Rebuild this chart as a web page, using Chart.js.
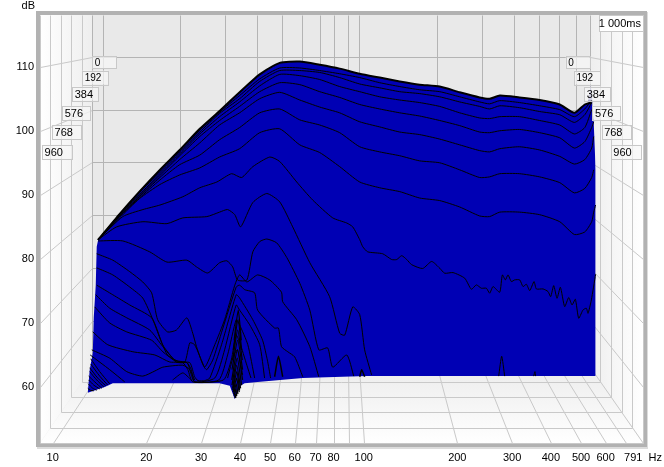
<!DOCTYPE html>
<html><head><meta charset="utf-8">
<style>html,body{margin:0;padding:0;background:#fff}canvas{display:block}</style>
<script src="https://cdn.jsdelivr.net/npm/chart.js@4"></script></head>
<body><canvas id="c" width="664" height="467"></canvas>
<script>
const xTicks=[10,20,30,40,50,60,70,80,100,200,300,400,500,600,791];
const yTicks=[60,70,80,90,100,110];
const timeLabels=[0,192,384,576,768,960];
const timeLabelLevels=[111.6,109.4,106.9,103.9,100.9,97.8];
const gridF=[14,16.4,19,22.1,25.6,29.7,34.4,39.9,46.3,53.7,62.3,72.2,83.7,97.1,112.6,130.6,151.4,175.6,203.6,236,254,274,317,368,427,476,514,541,549,557];
const edgeF=[12.96,13.15,13.45,13.55,13.75,13.85];
const edgeD=[59.1,62.7,65.3,70.9,75.9,81.9];
const floorF=[12.96,14.7,15.6,34.4,37.1,38.5,40.2,41.4,45.6,63.7,102.2,557];
const floorD=[59.1,60,60.6,60.6,60.2,58.1,60.2,60.6,60.8,61.4,61.7,61.7];
const s0=[83.0,87.0,90.5,93.9,97.0,100.3,103.1,106.0,108.8,110.6,110.8,110.3,109.7,108.9,108.3,107.7,107.2,106.9,106.0,105.2,105.0,105.5,105.2,104.8,104.1,102.8,104.1,104.4,101.4,93.9];
const s1=[83.0,87.0,90.5,93.8,96.9,100.1,102.9,105.5,108.1,109.8,109.8,109.4,108.9,108.3,107.5,106.9,106.4,106.1,105.3,104.5,104.2,104.7,104.4,103.9,103.3,102.2,103.4,104.8];
const s2=[83.0,86.9,90.3,93.6,96.7,99.8,102.7,105.0,107.7,109.4,109.4,109.1,108.3,107.3,106.7,106.1,105.8,105.3,104.5,103.8,103.4,103.9,103.6,103.0,102.5,101.3,102.5,104.4];
const s3=[83.0,86.9,90.0,93.3,96.4,99.5,102.2,104.5,107.0,108.8,108.6,108.0,106.9,106.1,105.3,104.8,104.4,103.8,102.8,102.0,101.9,102.2,102.2,101.6,100.9,99.5,100.5,103.3];
const s4=[83.0,86.7,89.8,93.0,96.1,99.1,101.6,103.8,106.1,107.5,107.2,106.1,105.2,104.1,103.4,102.8,102.3,101.6,100.8,99.8,99.7,100.0,100.2,99.7,98.9,97.3,98.3,100.5,101.4];
const s5=[83.0,86.7,89.7,92.7,95.5,98.1,100.9,102.8,105.0,106.0,104.8,103.7,102.8,101.4,100.6,99.8,99.4,98.7,97.8,96.9,96.7,97.2,97.5,97.0,96.0,94.8,95.5,97.3,99.1];
const s6=[83.0,86.6,89.5,92.3,94.7,96.2,98.6,100.5,102.8,103.4,101.7,100.9,99.7,97.5,96.7,96.1,95.3,95.0,93.9,92.7,92.8,93.3,93.3,92.8,91.9,90.3,91.0,92.7,93.9];
const s7=[83.0,86.4,89.4,91.6,93.1,94.2,95.9,97.2,99.7,100.3,97.8,96.6,94.4,92.0,91.1,90.5,89.5,89.1,88.1,86.7,86.6,87.3,87.3,86.9,85.8,83.8,84.2,85.8,87.3,88.4];
const s8F=[14,16.8,19.5,22.1,26.2,29.7,33.7,37.6,40.5,44,49.9,53.7,60.9,68.5,79.5,88.2,92.2,97.1,99.3,103,115.1,123,127.7,132.5,137.5,142.6,154.8,165.4,175.6,182.2,193.8,211.3,221.9,230.3,239,248,254.2,260.6,273.7,279.2,285.4,291.1,298.5,305.9,317.4,325.4,333.6,341.9,353,359.1,377.3,391.5,399.3,408.3,418.5,429,442.9,456.3,467.7,479.3,491.3,507.3,520,526.5,539.6,557];
const s8D=[83.0,86.6,87.7,88.4,89.7,91.1,92.0,93.3,92.7,94.4,95.9,95.2,92.0,89.2,86.4,85.6,85.0,83.0,81.9,81.1,80.8,79.9,79.9,80.5,79.9,79.1,78.5,79.6,78.54,77.76,77.86,76.98,75.26,75.94,75.42,75.42,74.64,75.68,74.79,77.5,76.72,77.5,76.46,76.72,76.72,75.68,76.04,75.05,76.46,75.31,75.31,74.9,74.1,75.83,73.85,75.57,72.55,73.96,72.81,73.7,70.73,72.03,72.29,71.5,73.6,77.6];
const s9F=[14,16.06,19.5,23.3,26.2,31.3,34.4,36.5,38.5,40.2,44,48.8,53.7,59.1,67.1,77.7,83.7,86.9,92.2,97.1,100.7,106];
const s9D=[83,85,85.8,85.5,86.4,86.6,87.3,87.7,86.9,85,88.8,90.2,88.9,85,79.4,74.1,68.4,68.1,72.5,71.3,65.8,61.9];
const s10F=[14,16.8,20.5,23.3,27,29,31.5,34.4,36.3,37.9,39.3,42.1,44,46.3,48.8,52.5,56.6,62.3,67.1,71.7,76.6,79.5,88.2,92.9];
const s10D=[82.8,82.8,81.1,79.5,79.8,78.75,77.8,79.4,79.7,78.75,76.7,76.7,81.1,82.7,83.1,82.5,80.2,76.2,72.0,65.8,66.1,63.1,65.0,61.7];
const s11F=[13.85,15.6,17.69,19.47,20.8,21.75,23.4,25,27,28.2,29,30.8,33.2,35.7,38.5,39.9,42.1,45.6,49.9,54.4,54.9,60.9,67.1,71.7];
const s11D=[80.8,79.8,78.0,76.4,74.7,70.5,68.6,68.9,70.8,68.4,66.3,63.1,66.6,70.5,75.9,77.5,76.4,77.5,76.7,74.8,73.3,70.5,66.3,61.6];
const s12F=[13.85,15.6,17.69,19.47,21,22.4,22.9,25,26.6,27.6,28.6,30.8,31.3,32.7,35.1,38.9,39.9,41.4,44.6,45.6,51.7,53.2,54.4,57,60,63.7];
const s12D=[78.6,77.5,75.6,73.9,70.5,66.9,66.1,63.9,63.9,66.9,66.6,63,62.7,64.2,68.9,75.6,75.9,75.2,74.7,72,69.2,69.2,66.3,65.5,64.7,61.6];
const s13F=[13.85,15.6,17.69,20.8,22.4,23.4,25.6,27.6,28.6,29.3,30.8,32,34.9,38.9,39.9,44,47.3,49,50.2];
const s13D=[75.9,74.4,72.8,70.8,67,65,63.9,63.8,61.6,61,61,61.4,66.6,74.4,73.9,70.5,67.3,64.2,61.4];
const s14F=[13.75,15.25,17.3,20.5,22.6,24.7,27,27.9,28.6,33.2,35.7,38.9,39.9,43,46.3,48];
const s14D=[74.4,72.3,70.8,68.9,66.3,64.2,63.8,62.7,60.8,61.4,65.8,72.8,72,69.7,66.6,61.4];
const s15F=[13.65,15.25,17.3,20.8,22.6,25,26.2,27.2,28.2,34.2,36.5,38.9,39.9,42.4,44.6];
const s15D=[72.5,70,68.6,67.3,65.5,63.9,63.8,62.7,60.8,61.1,65,70.5,69.7,66.6,61.4];
const s16F=[13.45,15.03,18.1,21.3,23.8,27,27.9,28.6,35.4,37.5,38.9,39.9,42.1,43.4];
const s16D=[68.6,66.6,65.5,65,63.9,63.8,61.9,60.8,61.1,64.2,68.1,67,63.4,61.4];
const s17F=[13.35,15.25,17.3,19.47,21.3,22.6,26.2,27.6,28.6];
const s17D=[65.8,64.5,62.4,61.7,62.5,63.1,63.4,62.7,61.1];
const s18F=[13.2,15.25,17.04];
const s18D=[65,62.7,60.8];
const hump1F=[36.5,38.2,39.3,40.8];
const hump1D=[61.4,65,65.8,61.9];
const hump2F=[24.3,26.2,27.9];
const hump2D=[61.1,62.2,61.1];
const hump3F=[51.7,53.2,54.9];
const hump3D=[61.6,64.8,61.6];
const hump4F=[97.1,98.5,100.7];
const hump4D=[61.6,62.7,61.6];
const hump5F=[271.7,277.8,284];
const hump5D=[61.7,64.8,61.7];
const hump6F=[352,355.4,357];
const hump6D=[61.7,62.4,61.7];
const fan1F=[13.25,14.16,15.25],fan1D=[64.4,62.4,60.5];
const fan2F=[13.25,14.16,15.03],fan2D=[63.6,61.7,60.3];
const fan3F=[13.15,13.95,14.8],fan3D=[63,61.4,60.2];
const fan4F=[13.15,13.85,14.6],fan4D=[62.4,61.1,60];
const fan5F=[13.05,13.65,14.38],fan5D=[61.7,60.8,59.8];
const fan6F=[13.05,13.55,14.16],fan6D=[61.1,60.3,59.7];
const fan7F=[13,13.45,13.85],fan7D=[60.5,59.8,59.5];
const fan8F=[12.96,13.2,13.55],fan8D=[59.8,59.5,59.4];
const p1F=[38.3,39.5,40.4],p1D=[67.3,72,67.3];
const p2F=[38.04,39.45,40.5],p2D=[65.8,70.5,65.8];
const p3F=[37.9,39.35,40.7],p3D=[64.2,68.9,64.2];
const p4F=[37.7,39.35,40.8],p4D=[62.7,67.3,62.7];
const p5F=[37.63,39.25,40.8],p5D=[61.1,65.8,61.1];
const p6F=[37.7,39.2,40.5],p6D=[60.3,64.5,60.3];
const p7F=[37.9,39.05,40.2],p7D=[59.8,63.4,59.8];
const p8F=[37.9,39.1,39.9],p8D=[59.5,62.4,59.5];
const p9F=[38.04,39,39.8],p9D=[59.2,61.4,59.2];
const p10F=[38.19,38.9,39.4],p10D=[58.9,60.5,58.9];
const p11F=[38.3,38.8,39.05],p11D=[58.6,59.7,58.6];
const p12F=[38.5,38.75,38.8],p12D=[58.3,58.9,58.3];
const spikeF=[525,537,545];
const spikeD=[104.4,107.1,104.4];

const zip=(f,d)=>d.map((v,i)=>({x:f[i],y:v}));
const BLUE='#0000b4';
const sets=[];
sets.push({label:'floor',data:zip(floorF,floorD),borderWidth:0,pointRadius:0,tension:0,fill:false,order:1000});
sets.push({label:'spike',data:zip(spikeF,spikeD),borderWidth:0,pointRadius:0,tension:0,fill:{target:0},backgroundColor:'rgba(105,105,170,0.95)',order:999});
sets.push({label:'mass',data:zip(edgeF.concat(gridF),edgeD.concat(s0)),borderWidth:0,pointRadius:0,tension:0,fill:{target:0},backgroundColor:BLUE,order:998});
const line=(label,f,d,w)=>sets.push({label,data:zip(f,d),borderColor:'#000',borderWidth:w||1,pointRadius:0,tension:0.2,fill:false,order:10});
line('0',gridF,s0.slice(0,28),2);
[s1,s2,s3,s4,s5,s6,s7].forEach((d,i)=>line('s'+(i+1),gridF,d));
line('s8',s8F,s8D);line('s9',s9F,s9D);line('s10',s10F,s10D);line('s11',s11F,s11D);line('s12',s12F,s12D);
line('s13',s13F,s13D);line('s14',s14F,s14D);line('s15',s15F,s15D);line('s16',s16F,s16D);line('s17',s17F,s17D);line('s18',s18F,s18D);
line('h1',hump1F,hump1D);line('h2',hump2F,hump2D);line('h3',hump3F,hump3D,1.5);line('h4',hump4F,hump4D,1.5);line('h5',hump5F,hump5D);line('h6',hump6F,hump6D);
[[fan1F,fan1D],[fan2F,fan2D],[fan3F,fan3D],[fan4F,fan4D],[fan5F,fan5D],[fan6F,fan6D],[fan7F,fan7D],[fan8F,fan8D]].forEach((a,i)=>line('f'+i,a[0],a[1]));
[[p1F,p1D],[p2F,p2D],[p3F,p3D],[p4F,p4D],[p5F,p5D],[p6F,p6D],[p7F,p7D],[p8F,p8D],[p9F,p9D],[p10F,p10D],[p11F,p11D],[p12F,p12D]].forEach((a,i)=>line('p'+i,a[0],a[1],1.2));

const X_MIN=9.1,X_MAX=791,Y_MIN=51.26,Y_MAX=118.07;
// Projection of the 3D box: u=0 is the back wall, u=1 the front plane.
function proj(ch,f,db,u){
  const L=Math.log10(f/10);
  const lb=1+0.1608+0.825*L, lf=1+L;
  const dbB=111.5-(110-db)*0.8227;
  return [ch.scales.x.getPixelForValue(Math.pow(10,(1-u)*lb+u*lf)),
          ch.scales.y.getPixelForValue((1-u)*dbB+u*db)];
}
const gridFreqs=[10,20,30,40,50,60,70,80,90,100,200,300,400,500,600,700];
const seg=(c,a,b)=>{c.beginPath();c.moveTo(Math.round(a[0])+.5,Math.round(a[1])+.5);c.lineTo(Math.round(b[0])+.5,Math.round(b[1])+.5);c.stroke();};
const poly=(c,pts,fill)=>{c.beginPath();pts.forEach((p,i)=>i?c.lineTo(p[0],p[1]):c.moveTo(p[0],p[1]));c.closePath();c.fillStyle=fill;c.fill();};
const box3d={id:'box3d',
 beforeDraw(ch){
  const c=ch.ctx,a=ch.chartArea;
  c.save();
  c.fillStyle='#fff';c.fillRect(0,0,664,467);
  c.fillStyle='#dcdcdc';c.fillRect(a.left-3,a.top-3,a.width+8,a.height+9);
  c.fillStyle='#b2b2b2';c.fillRect(a.left-4,a.top-4,a.width+8,a.height+8);
  const bl=proj(ch,X_MIN,Y_MIN,0),br=proj(ch,X_MAX,Y_MIN,0);
  const fl=[a.left,a.bottom],fr=[a.right,a.bottom];
  c.fillStyle='#e9e9e9';c.fillRect(a.left,a.top,a.width,a.height);
  let g=c.createLinearGradient(a.left,0,bl[0],0);g.addColorStop(0,'#ffffff');g.addColorStop(1,'#eeeeee');
  poly(c,[[a.left,a.top],[bl[0],a.top],bl,fl],g);
  g=c.createLinearGradient(a.right,0,br[0],0);g.addColorStop(0,'#ffffff');g.addColorStop(1,'#eeeeee');
  poly(c,[[a.right,a.top],[br[0],a.top],br,fr],g);
  g=c.createLinearGradient(0,bl[1],0,a.bottom);g.addColorStop(0,'#ececec');g.addColorStop(1,'#ffffff');
  poly(c,[bl,br,fr,fl],g);
  c.lineWidth=1;
  // side-wall + floor lines
  c.strokeStyle='#c9c9c9';
  yTicks.forEach(v=>{seg(c,proj(ch,X_MIN,v,0),proj(ch,X_MIN,v,1));seg(c,proj(ch,X_MAX,v,0),proj(ch,X_MAX,v,1));});
  gridFreqs.concat([X_MAX]).forEach(f=>seg(c,proj(ch,f,Y_MIN,0),proj(ch,f,Y_MIN,1)));
  [0.2,0.4,0.6,0.8,1].forEach(u=>{
    const l=proj(ch,X_MIN,Y_MIN,u),r=proj(ch,X_MAX,Y_MIN,u);
    seg(c,l,r);
    seg(c,[l[0],a.top],l);seg(c,[r[0],a.top],r);
  });
  // back wall
  c.strokeStyle='#b4b4b4';
  gridFreqs.forEach(f=>{const p=proj(ch,f,Y_MIN,0);seg(c,[p[0],a.top],p);});
  seg(c,[bl[0],a.top],bl);seg(c,[br[0],a.top],br);
  yTicks.forEach(v=>seg(c,proj(ch,X_MIN,v,0),proj(ch,X_MAX,v,0)));
  seg(c,bl,br);
  c.restore();
 },
 afterDatasetsDraw(ch){
  const c=ch.ctx,a=ch.chartArea,y=ch.scales.y;
  c.save();
  c.lineWidth=1;c.textBaseline='middle';c.textAlign='left';
  const drawBox=(x,t,w,h,txt,font)=>{
    c.fillStyle='rgba(246,246,246,0.72)';c.fillRect(x,t,w,h);
    c.strokeStyle='#c8c8c8';c.strokeRect(Math.round(x)+.5,Math.round(t)+.5,w,h);
    c.fillStyle='#000';c.font=font;c.fillText(txt,x+2.5,t+h/2+1);
  };
  timeLabels.forEach((t,i)=>{
    const u=t/1000,top=y.getPixelForValue(timeLabelLevels[i]);
    const w=[24,26,26,28,29,30][i],h=i<2?(i?14:12):14;
    const font=(i<2?'10px':'11px')+' "Liberation Sans"';
    const l=proj(ch,X_MIN,Y_MIN,u)[0],r=proj(ch,X_MAX,Y_MIN,u)[0];
    drawBox(l,top,w,h,String(t),font);
    drawBox(r-w,top,w,h,String(t),font);
  });
  c.fillStyle='#fff';c.fillRect(a.right-44,a.top,44,16);
  c.strokeStyle='#c8c8c8';c.strokeRect(a.right-43.5,a.top+.5,44,16);
  c.fillStyle='#000';c.font='11px "Liberation Sans"';c.textAlign='right';c.fillText('1 000ms',a.right-2,a.top+9);
  c.fillText('dB',35,6);
  c.restore();
 }};

new Chart(document.getElementById('c'),{
 type:'line',
 data:{datasets:sets},
 plugins:[box3d],
 options:{responsive:false,animation:false,devicePixelRatio:1,
  layout:{padding:{top:15,right:21,left:0,bottom:0}},
  plugins:{legend:{display:false},tooltip:{enabled:false}},
  scales:{
   x:{type:'logarithmic',min:X_MIN,max:X_MAX,
      afterBuildTicks:s=>{s.ticks=xTicks.map(v=>({value:v}));},
      afterFit:s=>{s.height=24;s.paddingRight=0;s.paddingLeft=0;},
      grid:{display:false,drawTicks:false},border:{display:false},
      ticks:{autoSkip:false,maxRotation:0,minRotation:0,padding:8,color:'#000',font:{family:'"Liberation Sans"',size:11},
        callback:v=>v===791?'791  Hz':String(v)}},
   y:{type:'linear',min:Y_MIN,max:Y_MAX,
      afterBuildTicks:s=>{s.ticks=yTicks.map(v=>({value:v}));},
      afterFit:s=>{s.width=40;s.paddingTop=0;s.paddingBottom=0;},
      grid:{display:false,drawTicks:false},border:{display:false},
      ticks:{padding:6,color:'#000',font:{family:'"Liberation Sans"',size:11},callback:v=>String(v)}}
  }}
});
</script></body></html>
